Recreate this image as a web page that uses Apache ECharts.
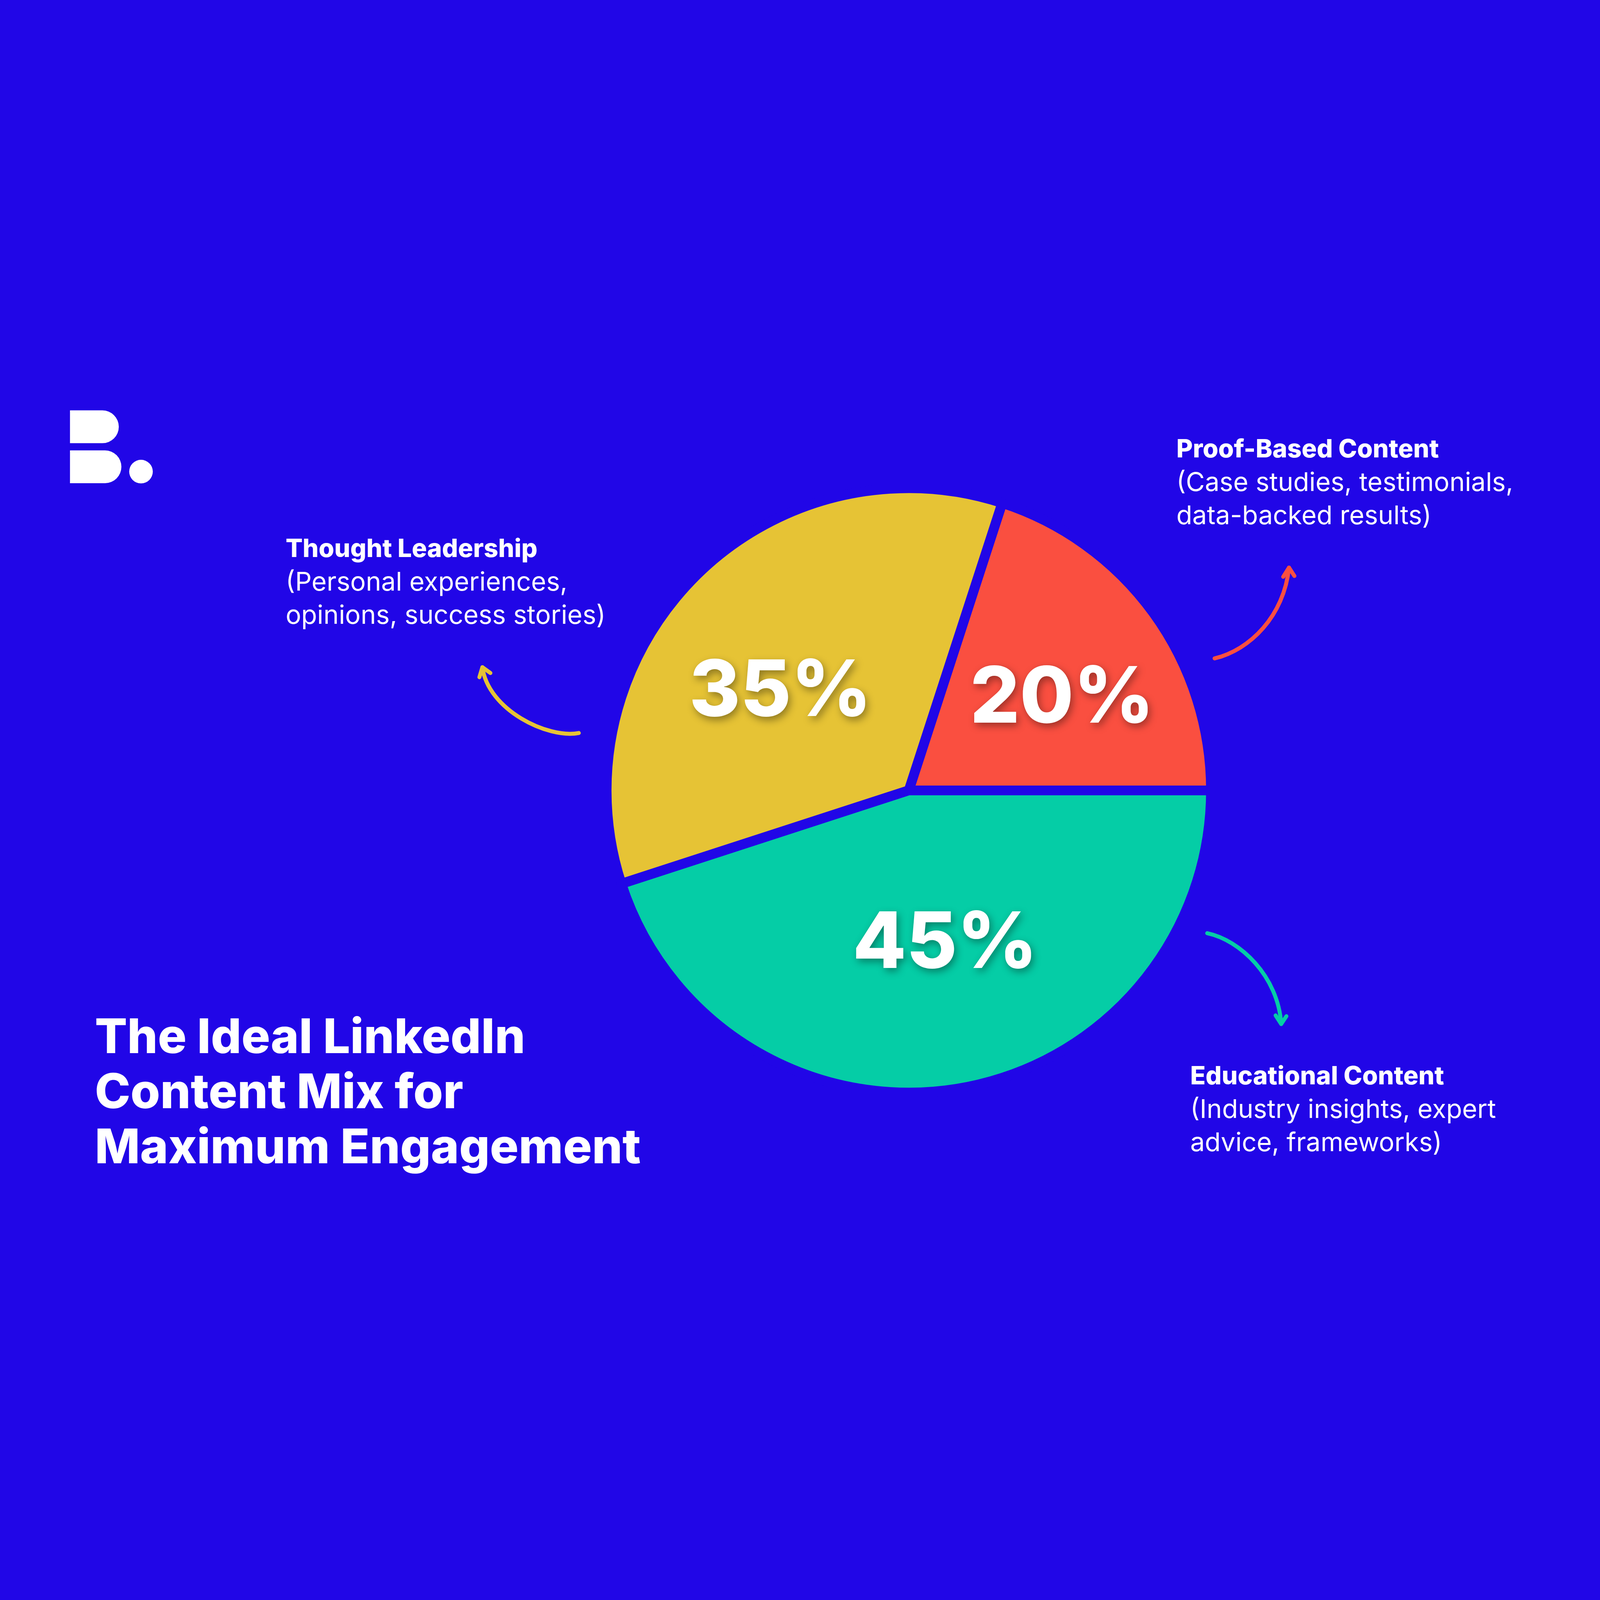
<!DOCTYPE html>
<html>
<head>
<meta charset="utf-8">
<script src="https://cdn.jsdelivr.net/npm/echarts@6/dist/echarts.min.js"></script>
<style>
  html, body { margin: 0; padding: 0; background: #2106E7; overflow: hidden; }
  #chart { width: 100vw; height: 100vh; }
</style>
</head>
<body>
<div id="chart"></div>
<script>
// ---- data ----
const categories = ['Proof-Based Content', 'Thought Leadership', 'Educational Content'];
const shares = [20, 35, 45];
const descriptionLines = [
  ['(Case studies, testimonials,', 'data-backed results)'],
  ['(Personal experiences,', 'opinions, success stories)'],
  ['(Industry insights, expert', 'advice, frameworks)']
];
const titleLines = ['The Ideal LinkedIn', 'Content Mix for', 'Maximum Engagement'];

// ---- styling (design space 8000 x 4500, scaled to the window) ----
const BG = '#2106E7';
const sliceColors = ['#FA4F40', '#E6C335', '#05CDA6'];
const labelShift = [[150, -8], [-104, 50], [62, 18]];
const FONT = 'Inter, "Open Sans", sans-serif';
const blockAnchors = [[5882, 500], [1428, 998], [5951, 3634]];
const LINE_STEP = 166;

const el = document.getElementById('chart');
const W = window.innerWidth, H = window.innerHeight;
const s = Math.min(W / 8000, H / 4500);
const ox = (W - 8000 * s) / 2;
const oy = (H - 4500 * s) / 2;

const chart = echarts.init(el, null, { renderer: 'canvas', width: W, height: H });

const children = [];
// logo "B."
children.push({ type: 'rect', shape: { x: 350, y: 302, width: 244, height: 164, r: [0, 82, 82, 0] }, style: { fill: '#fff' } });
children.push({ type: 'rect', shape: { x: 350, y: 502, width: 257, height: 164, r: [0, 82, 82, 0] }, style: { fill: '#fff' } });
children.push({ type: 'circle', shape: { cx: 705, cy: 608, r: 59 }, style: { fill: '#fff' } });

// category text blocks
categories.forEach((name, i) => {
  const [x, y] = blockAnchors[i];
  children.push({
    type: 'text', x: x, y: y,
    style: { text: name, fill: '#fff', font: '800 126px ' + FONT, textAlign: 'left', textVerticalAlign: 'middle', verticalAlign: 'middle' }
  });
  descriptionLines[i].forEach((line, j) => {
    children.push({
      type: 'text', x: x, y: y + LINE_STEP * (j + 1),
      style: { text: line, fill: '#fff', font: '400 130px ' + FONT, textAlign: 'left', textVerticalAlign: 'middle', verticalAlign: 'middle' }
    });
  });
});

// title
titleLines.forEach((line, j) => {
  children.push({
    type: 'text', x: 474, y: 3444 + 275 * j,
    style: { text: line, fill: '#fff', font: '800 240px ' + FONT, textAlign: 'left', textVerticalAlign: 'middle', verticalAlign: 'middle' }
  });
});

// decorative arrows
const arrows = [
  { color: '#FA4F40', curve: [[6073, 1542], [6250, 1500], [6420, 1330], [6445, 1088]], head: [[6416, 1134], [6445, 1088], [6472, 1130]] },
  { color: '#E6C335', curve: [[2894, 1915], [2740, 1945], [2440, 1800], [2412, 1586]], head: [[2397, 1636], [2412, 1586], [2452, 1615]] },
  { color: '#05CDA6', curve: [[6036, 2916], [6200, 2950], [6390, 3130], [6406, 3370]], head: [[6378, 3327], [6406, 3370], [6432, 3331]] }
];
arrows.forEach(a => {
  const c = a.curve;
  children.push({
    type: 'bezierCurve',
    shape: { x1: c[0][0], y1: c[0][1], cpx1: c[1][0], cpy1: c[1][1], cpx2: c[2][0], cpy2: c[2][1], x2: c[3][0], y2: c[3][1] },
    style: { stroke: a.color, lineWidth: 20, lineCap: 'round', fill: null }
  });
  children.push({
    type: 'polyline',
    shape: { points: a.head },
    style: { stroke: a.color, lineWidth: 20, lineCap: 'round', lineJoin: 'round', fill: null }
  });
});

const option = {
  backgroundColor: BG,
  animation: false,
  graphic: { elements: [{ type: 'group', x: ox, y: oy, scaleX: s, scaleY: s, silent: true, children: children }] },
  series: [{
    type: 'pie',
    center: [ox + 4544 * s, oy + 2202 * s],
    radius: [0, 1511 * s],
    startAngle: 0,
    clockwise: false,
    avoidLabelOverlap: false,
    silent: true,
    itemStyle: { borderColor: BG, borderWidth: 49 * s },
    label: {
      show: true,
      position: 'inside',
      formatter: '{c}%',
      color: '#fff',
      fontFamily: FONT,
      fontWeight: 800,
      fontSize: 390 * s,
      textShadowColor: 'rgba(0,0,0,0.38)',
      textShadowBlur: 40 * s,
      textShadowOffsetX: 10 * s,
      textShadowOffsetY: 16 * s
    },
    labelLine: { show: false },
    data: categories.map((name, i) => ({
      name: name,
      value: shares[i],
      itemStyle: { color: sliceColors[i] },
      label: { offset: [labelShift[i][0] * s, labelShift[i][1] * s] }
    }))
  }]
};

chart.setOption(option);
</script>
</body>
</html>
